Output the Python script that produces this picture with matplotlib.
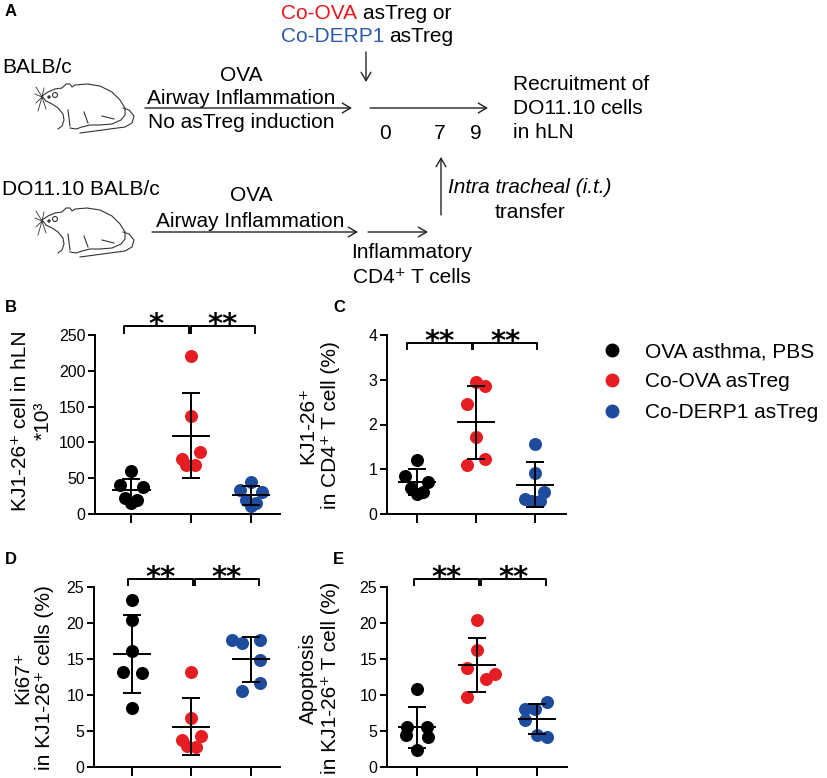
import numpy as np
import matplotlib
matplotlib.use('Agg')
import matplotlib.pyplot as plt
from matplotlib.lines import Line2D

plt.rcParams['font.family'] = ['Liberation Sans', 'DejaVu Sans']

groups = ['OVA asthma, PBS', 'Co-OVA asTreg', 'Co-DERP1 asTreg']
colors = ['#000000', '#E61E23', '#1E4B9B']

# B: KJ1-26+ cells in hLN (*10^3)
b_vals = [[60, 40, 38, 23, 20, 16],
          [220, 137, 86, 77, 68, 69],
          [45, 34, 31, 19, 16, 11]]
# C: KJ1-26+ in CD4+ T cells (%)
c_vals = [[1.21, 0.86, 0.72, 0.57, 0.50, 0.45],
          [2.96, 2.85, 2.46, 1.73, 1.22, 1.10],
          [1.56, 0.91, 0.50, 0.33, 0.30, 0.30]]
# D: Ki67+ in KJ1-26+ cells (%)
d_vals = [[23.2, 20.4, 16.1, 13.2, 13.1, 8.2],
          [13.2, 6.8, 4.3, 3.7, 2.9, 2.8],
          [17.7, 17.2, 17.7, 14.8, 11.7, 10.6]]
# E: apoptosis in KJ1-26+ T cells (%)
e_vals = [[10.9, 5.6, 5.5, 4.5, 4.1, 2.4],
          [20.4, 16.2, 13.7, 12.9, 12.2, 9.7],
          [9.0, 8.0, 8.0, 6.5, 4.4, 4.1]]

# horizontal scatter of the dots (as seen in the figure)
b_jit = [[0, -0.185, 0.19, -0.1, 0.1, 0], [0, 0, 0.15, -0.16, -0.08, 0.07], [0, -0.185, 0.185, -0.085, 0.085, 0]]
c_jit = [[0, -0.2, 0.18, -0.1, 0.1, 0], [0, 0.15, -0.16, 0, 0.15, -0.16], [0, 0, 0.15, -0.17, 0.08, -0.05]]
d_jit = [[0, 0, 0, -0.16, 0.16, 0], [0, 0, 0.155, -0.16, -0.08, 0.08], [-0.31, -0.15, 0.15, 0.15, 0.15, -0.15]]
e_jit = [[0, -0.16, 0.16, -0.19, 0.18, 0], [0, 0, -0.16, 0.30, 0.15, -0.16], [0.17, -0.2, -0.03, -0.2, 0, 0.17]]

W, H = 827, 778
fig = plt.figure(figsize=(W / 100, H / 100), dpi=100)


def rect(l, t, r, b):
    return [l / W, 1 - b / H, (r - l) / W, (b - t) / H]


def fxy(x, y):
    return x / W, 1 - y / H


# ---- panel A: the scheme, drawn in pixel coordinates
ax0 = fig.add_axes([0, 0, 1, 1])
ax0.set_xlim(0, W)
ax0.set_ylim(H, 0)
ax0.axis('off')

fs = 15


def arrow(x1, y1, x2, y2):
    ax0.annotate('', xy=(x2, y2), xytext=(x1, y1),
                 arrowprops=dict(arrowstyle='->,head_length=0.6,head_width=0.35',
                                 lw=1.0, color='#222222', shrinkA=0, shrinkB=0))


def mouse(nx, ny):
    kw = dict(color='#333333', lw=0.8)
    back = [(0, 0), (6, -4), (13, -7), (20, -8), (21, -9), (24, -12), (28, -12), (30, -9),
            (33, -11), (45, -12), (58, -10), (70, -4), (78, 4), (83, 12), (83, 19), (79, 24),
            (70, 28), (58, 29), (48, 29), (40, 31), (34, 33), (28, 32)]
    chin = [(0, 0), (4, 5), (10, 8), (16, 12), (21, 18), (22, 24), (20, 30), (16, 33)]
    tail = [(81, 12), (87, 14), (92, 20), (90, 27), (83, 31), (68, 33), (53, 35), (38, 37)]
    for pts in (back, chin, tail):
        xs = [nx + p[0] for p in pts]
        ys = [ny + p[1] for p in pts]
        ax0.plot(xs, ys, **kw)
    for a, b in [((42, 16), (46, 27)), ((26, 14), (28, 30)), ((60, 20), (72, 23))]:
        ax0.plot([nx + a[0], nx + b[0]], [ny + a[1], ny + b[1]], **kw)
    for dx, dy in [(-6, -10), (-7, -3), (-6, 6), (-4, 14), (2, -9), (4, 12)]:
        ax0.plot([nx, nx + dx], [ny + 1, ny + 1 + dy], color='#333333', lw=0.6)
    ax0.add_patch(plt.Circle((nx + 13, ny - 1), 2.5, fill=False, **kw))
    ax0.add_patch(plt.Circle((nx + 7, ny + 1), 1.0, color='#333333'))


mouse(42, 96)
mouse(42, 220)

ax0.text(281, 13, 'Co-OVA', color='#E8191C', fontsize=fs, ha='left', va='center')
ax0.text(363, 13, 'asTreg or', fontsize=fs, ha='left', va='center')
ax0.text(281, 36, 'Co-DERP1', color='#2E5AAC', fontsize=fs, ha='left', va='center')
ax0.text(389, 36, 'asTreg', fontsize=fs, ha='left', va='center')
arrow(366, 52, 366, 82)

ax0.text(2, 67, 'BALB/c', fontsize=fs, ha='left', va='center')
ax0.text(241, 75, 'OVA', fontsize=fs, ha='center', va='center')
ax0.text(241, 98, 'Airway Inflammation', fontsize=fs, ha='center', va='center')
arrow(145, 108, 352, 108)
ax0.text(241, 122, 'No asTreg induction', fontsize=fs, ha='center', va='center')
arrow(370, 108, 488, 108)
for lab, xx in zip(['0', '7', '9'], [385, 440, 476]):
    ax0.text(xx, 133, lab, fontsize=fs, ha='center', va='center')
ax0.text(513, 84, 'Recruitment of', fontsize=fs, ha='left', va='center')
ax0.text(513, 108, 'DO11.10 cells', fontsize=fs, ha='left', va='center')
ax0.text(513, 132, 'in hLN', fontsize=fs, ha='left', va='center')

arrow(441, 215, 441, 157)
ax0.text(448, 187, 'Intra tracheal (i.t.)', fontsize=fs, style='italic', ha='left', va='center')
ax0.text(530, 212, 'transfer', fontsize=fs, ha='center', va='center')

ax0.text(2, 189, 'DO11.10 BALB/c', fontsize=fs, ha='left', va='center')
ax0.text(251, 195, 'OVA', fontsize=fs, ha='center', va='center')
ax0.text(250, 221, 'Airway Inflammation', fontsize=fs, ha='center', va='center')
arrow(152, 232, 358, 232)
arrow(368, 232, 428, 232)
ax0.text(412, 252, 'Inflammatory', fontsize=fs, ha='center', va='center')
ax0.text(412, 277, 'CD4⁺ T cells', fontsize=fs, ha='center', va='center')

# ---- panels B-E
panels = [
    dict(vals=b_vals, jit=b_jit, rect=rect(95, 335, 280, 514), xlim=(0.39, 3.49),
         ylim=250, step=50, spans=[(0.87, 1.97), (2.0, 3.07)], top=262.6, leg=252.8,
         stars=['*', '**'], letter='B', lpos=(5, 308),
         ylabel='KJ1-26⁺ cell in hLN\n*10³', ypos=(32, 421)),
    dict(vals=c_vals, jit=c_jit, rect=rect(387, 335, 566, 514), xlim=(0.49, 3.52),
         ylim=4, step=1, spans=[(0.83, 1.93), (1.95, 3.03)], top=3.82, leg=3.69,
         stars=['**', '**'], letter='C', lpos=(333, 308),
         ylabel='KJ1-26⁺\nin CD4⁺ T cell (%)', ypos=(319, 425)),
    dict(vals=d_vals, jit=d_jit, rect=rect(94, 587, 280, 767), xlim=(0.36, 3.49),
         ylim=25, step=5, spans=[(0.93, 2.03), (2.06, 3.13)], top=26.1, leg=25.3,
         stars=['**', '**'], letter='D', lpos=(5, 560),
         ylabel='Ki67⁺\nin KJ1-26⁺ cells (%)', ypos=(34, 678)),
    dict(vals=e_vals, jit=e_jit, rect=rect(387, 587, 567, 767), xlim=(0.5, 3.5),
         ylim=25, step=5, spans=[(0.95, 2.03), (2.07, 3.15)], top=26.1, leg=25.3,
         stars=['**', '**'], letter='E', lpos=(333, 560),
         ylabel='Apoptosis\nin KJ1-26⁺ T cell (%)', ypos=(319, 678)),
]

for p in panels:
    ax = fig.add_axes(p['rect'])
    ax.set_facecolor('none')
    for i, (v, j) in enumerate(zip(p['vals'], p['jit'])):
        v = np.array(v, dtype=float)
        x = i + 1
        ax.scatter(x + np.array(j), v, s=88, color=colors[i], linewidths=0, zorder=2, clip_on=False)
        m, sd = v.mean(), v.std(ddof=1)
        ax.errorbar([x], [m], yerr=[sd], fmt='none', ecolor='black', elinewidth=1.4,
                    capsize=6.5, capthick=1.4, zorder=3)
        ax.hlines(m, x - 0.32, x + 0.32, color='black', lw=1.4, zorder=3)
    ax.set_xlim(*p['xlim'])
    ax.set_ylim(0, p['ylim'])
    ax.set_yticks(np.arange(0, p['ylim'] + p['step'] / 2, p['step']))
    ax.set_xticks([1, 2, 3])
    ax.set_xticklabels([])
    ax.tick_params(axis='y', labelsize=11.5, length=5, width=1.4, pad=2)
    ax.tick_params(axis='x', length=6.5, width=1.4)
    for s in ['top', 'right']:
        ax.spines[s].set_visible(False)
    for s in ['left', 'bottom']:
        ax.spines[s].set_linewidth(1.4)

    for (x1, x2), st in zip(p['spans'], p['stars']):
        ax.plot([x1, x1, x2, x2], [p['leg'], p['top'], p['top'], p['leg']],
                color='black', lw=1.4, clip_on=False)
        ax.annotate(st, xy=((x1 + x2) / 2, p['top']), xytext=(0, -5), textcoords='offset points',
                    ha='center', va='baseline', fontsize=21, fontweight='bold',
                    family='DejaVu Sans', annotation_clip=False)

    fig.text(*fxy(*p['ypos']), p['ylabel'], rotation=90, ha='center', va='center',
             fontsize=fs, multialignment='center')
    fig.text(*fxy(*p['lpos']), p['letter'], fontsize=12, fontweight='bold', ha='left', va='center')

fig.text(*fxy(5, 12), 'A', fontsize=12, fontweight='bold', ha='left', va='center')

handles = [Line2D([], [], marker='o', ls='', color=c, markersize=9) for c in colors]
fig.legend(handles, groups, loc='upper left', bbox_to_anchor=fxy(602, 342), frameon=False,
           fontsize=fs, handlelength=1.0, handletextpad=1.05, labelspacing=0.55,
           borderpad=0, borderaxespad=0)

fig.savefig('out.png', dpi=100)
